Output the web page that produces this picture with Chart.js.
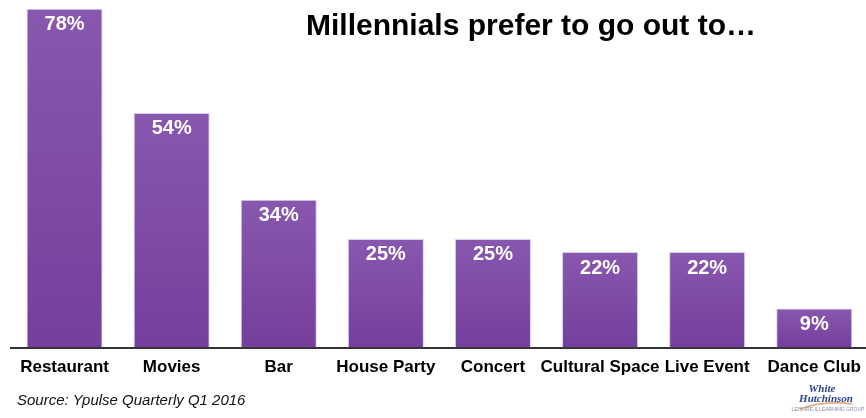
<!DOCTYPE html>
<html>
<head>
<meta charset="utf-8">
<script src="https://cdn.jsdelivr.net/npm/chart.js@4.4.0/dist/chart.umd.min.js"></script>
<style>
html,body{margin:0;padding:0;background:#fff;overflow:hidden;}
#wrap{position:relative;width:866px;height:418px;overflow:hidden;}
</style>
</head>
<body>
<div id="wrap"><canvas id="c" width="871" height="418"></canvas></div>
<script>
const categories = ["Restaurant","Movies","Bar","House Party","Concert","Cultural Space","Live Event","Dance Club"];
const values = [78,54,34,25,25,22,22,9];
const valueLabels = ["78%","54%","34%","25%","25%","22%","22%","9%"];
const titleText = "Millennials prefer to go out to\u2026";
const sourceText = "Source: Ypulse Quarterly Q1 2016";

const FONT = "'Liberation Sans', Arial, Helvetica, sans-serif";

const overlay = {
  id: 'overlay',
  afterDatasetsDraw(chart) {
    const ctx = chart.ctx;
    const meta = chart.getDatasetMeta(0);
    ctx.save();
    ctx.fillStyle = '#ffffff';
    ctx.font = "bold 20px " + FONT;
    ctx.textAlign = 'center';
    ctx.textBaseline = 'middle';
    meta.data.forEach((bar, i) => {
      ctx.fillText(valueLabels[i], bar.x, bar.y + 16);
    });
    ctx.restore();
  },
  afterDraw(chart) {
    const ctx = chart.ctx;
    ctx.save();
    ctx.fillStyle = '#000';
    ctx.font = "bold 30px " + FONT;
    ctx.textAlign = 'center';
    ctx.textBaseline = 'middle';
    ctx.fillText(titleText, 531, 27);
    ctx.font = "italic 15px " + FONT;
    ctx.textAlign = 'left';
    ctx.fillStyle = '#111';
    ctx.fillText(sourceText, 17, 401);
    // logo text
    ctx.textAlign = 'center';
    ctx.fillStyle = '#2b3f8c';
    ctx.font = "italic bold 11px 'Liberation Serif', serif";
    ctx.fillText("White", 822, 389);
    ctx.fillText("Hutchinson", 826, 399);
    ctx.strokeStyle = '#e0a070';
    ctx.lineWidth = 1.5;
    ctx.beginPath();
    ctx.moveTo(800, 409);
    ctx.quadraticCurveTo(825, 400, 852, 404);
    ctx.stroke();
    ctx.font = "5px " + FONT;
    ctx.fillStyle = '#8a8aa8';
    ctx.fillText("LEISURE & LEARNING GROUP", 828, 410);
    ctx.restore();
  }
};

function barGradient(context) {
  const chart = context.chart;
  const area = chart.chartArea;
  if (!area) return '#7f4aa8';
  const yScale = chart.scales.y;
  const v = context.raw;
  const top = yScale.getPixelForValue(v);
  const bottom = yScale.getPixelForValue(0);
  const g = chart.ctx.createLinearGradient(0, top, 0, bottom);
  g.addColorStop(0, '#8857ae');
  g.addColorStop(1, '#753f9d');
  return g;
}

new Chart(document.getElementById('c'), {
  type: 'bar',
  data: {
    labels: categories,
    datasets: [{
      data: values,
      backgroundColor: barGradient,
      borderColor: 'rgba(215,200,232,0.9)',
      borderWidth: 1,
      borderSkipped: 'bottom',
      categoryPercentage: 1.0,
      barPercentage: 0.71
    }]
  },
  options: {
    responsive: false,
    animation: false,
    devicePixelRatio: 1,
    layout: { padding: { left: 11, right: 0, top: 0, bottom: 30 } },
    plugins: { legend: { display: false }, tooltip: { enabled: false }, title: { display: false } },
    scales: {
      x: {
        grid: { display: false, drawTicks: false },
        border: { display: true, color: '#333333', width: 2 },
        ticks: {
          color: '#000',
          font: { family: FONT, size: 17, weight: 'bold' },
          padding: 10,
          autoSkip: false,
          maxRotation: 0,
          minRotation: 0
        }
      },
      y: {
        display: false,
        min: 0,
        max: 80,
        grid: { display: false }
      }
    }
  },
  plugins: [overlay]
});
</script>
</body>
</html>
